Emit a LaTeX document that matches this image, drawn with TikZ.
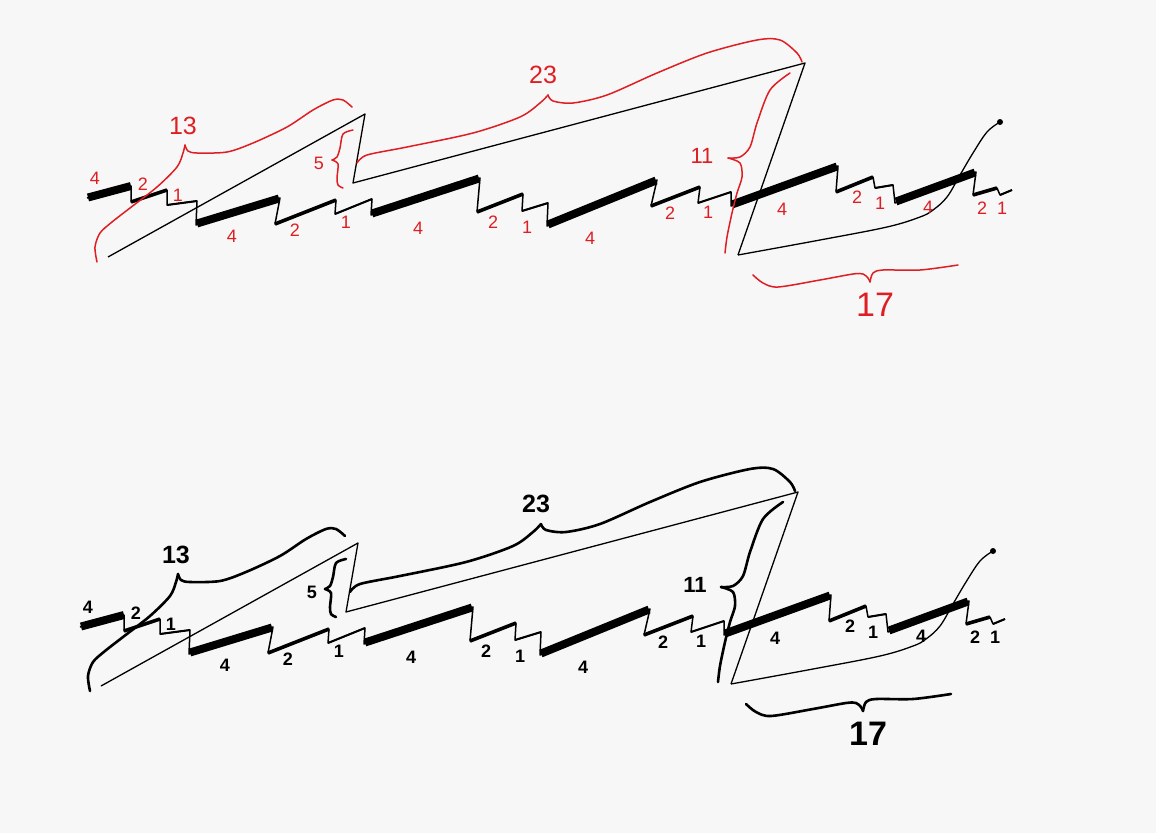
\documentclass[tikz,border=0pt]{standalone}
\usepackage{fontspec}
\setmainfont{Liberation Sans}
\definecolor{redink}{RGB}{222,30,34}
\definecolor{paper}{RGB}{247,247,247}
% #1 prefix, #2 annotation colour, #3 brace width, #4 font series
\newcommand\sawfig[4]{%
 % sawtooth base line
 \draw[drop] (87,198)--(131,186)--(131,202)--(167,190)--(167,205)--(197,201)--(196,225)--(280,198)--(275,224)--(336,200)--(335,214)--(372,199)--(371,215)--(480,178)--(477,212)--(523,194)--(522,211)--(548,203)--(547,226)--(657,180)--(651,206)--(700,187)--(698,203)--(731,192)--(731,206)--(838,166)--(836,192)--(873,177)--(875,188)--(893,185)--(895,203)--(976,172)--(973,195)--(997,188)--(1000,195)--(1012,190);
 % segments of length 4
 \draw[w4] (88,197.5)--(131,186);
 \draw[w4] (197,223.5)--(279,198.5);
 \draw[w4] (372,213.5)--(479,178.5);
 \draw[w4] (548,224.5)--(656,180.5);
 \draw[w4] (732,204.5)--(837,166.5);
 \draw[w4] (896,201.5)--(975,172.5);
 % segments of length 2
 \draw[w2] (131,202)--(167,190);
 \draw[w2] (275,224)--(336,200);
 \draw[w2] (477,212)--(523,194);
 \draw[w2] (651,206)--(700,187);
 \draw[w2] (836,192)--(873,177);
 \draw[w2] (973,195)--(997,188);
 % segments of length 1
 \draw[w1] (167,205)--(197,201);
 \draw[w1] (335,214)--(372,199);
 \draw[w1] (522,211)--(548,203);
 \draw[w1] (698,203)--(731,192);
 \draw[w1] (875,188)--(893,185);
 \draw[w1] (1000,195)--(1012,190);
 % thin outline of the groups
 \draw[thin] (108,257)--(365,114)--(353,183)--(805,63)--(738,255);
 \draw[thin] plot[smooth,tension=0.6] coordinates {(738,255)(820,240)(887,227)(920,217)(933,210)(947,197)(960,175)(973,153)(987,132)(1000,122)};
 \fill (1000,122) circle (3);
 % braces
 \begin{scope}[draw=#2,line width=#3,line cap=round]
  \draw plot[smooth] coordinates {(97,262)(95,247)(100,233)(112,222)(130,208)(157,187)(177,167)(183,153)(185,145)};
  \draw plot[smooth] coordinates {(185,145)(188,151)(197,153)(227,152)(253,143)(287,127)(313,110)(333,100)(343,100)(352,107)};
  \draw plot[smooth] coordinates {(353,130)(343,134)(340,148)(337,157)(332,160)};
  \draw plot[smooth] coordinates {(332,160)(338,164)(337,178)(338,185)(343,188)};
  \draw plot[smooth] coordinates {(357,163)(367,155)(407,147)(473,133)(520,117)(540,103)(548,95)};
  \draw plot[smooth] coordinates {(548,95)(553,101)(573,103)(607,95)(657,73)(707,53)(757,40)(780,40)(797,53)(802,62)};
  \draw plot[smooth] coordinates {(790,73)(770,90)(757,123)(750,147)(740,157)(728,158)};
  \draw plot[smooth] coordinates {(728,158)(740,163)(742,177)(737,193)(732,213)(727,237)(725,253)};
  \draw plot[smooth] coordinates {(753,275)(763,283)(778,287)(820,280)(853,274)(863,274)(868,278)(870,282)};
  \draw plot[smooth] coordinates {(870,282)(873,273)(883,270)(920,270)(958,265)};
 \end{scope}
 % labels
 \begin{scope}[every node/.style={text=#2,inner sep=0pt,font=#4\fontsize{18}{18}\selectfont}]
  \node (#1a1) at (95,178) {4};
  \node (#1a2) at (143,184) {2};
  \node (#1a3) at (178,195) {1};
  \node (#1b1) at (232,236) {4};
  \node (#1b2) at (295,230) {2};
  \node (#1b3) at (346,222) {1};
  \node (#1c1) at (418,228) {4};
  \node (#1c2) at (493,222) {2};
  \node (#1c3) at (527,227) {1};
  \node (#1d1) at (590,238) {4};
  \node (#1d2) at (670,213) {2};
  \node (#1d3) at (708,212) {1};
  \node (#1e1) at (782,209) {4};
  \node (#1e2) at (857,197) {2};
  \node (#1e3) at (880,203) {1};
  \node (#1f1) at (928,207) {4};
  \node (#1f2) at (982,208) {2};
  \node (#1f3) at (1002,208) {1};
  \node (#1five) at (319,163) {5};
  \node[font=#4\fontsize{25}{25}\selectfont] (#1thirteen) at (183,126) {13};
  \node[font=#4\fontsize{25}{25}\selectfont] (#1twentythree) at (543,75) {23};
  \node[font=#4\fontsize{22}{22}\selectfont] (#1eleven) at (702,156) {11};
  \node[font=#4\fontsize{34}{34}\selectfont] (#1seventeen) at (875,305) {17};
 \end{scope}
}
\begin{document}
\begin{tikzpicture}[x=1pt,y=-1pt,
  line join=round,
  w4/.style={line width=8pt},
  w2/.style={line width=3.6pt},
  w1/.style={line width=2pt},
  drop/.style={line width=1.5pt},
  thin/.style={line width=1.3pt}]
 \fill[paper] (0,0) rectangle (1156,833);
 \useasboundingbox (0,0) rectangle (1156,833);
 \sawfig{t}{redink}{1.5pt}{\normalfont}
 \begin{scope}[shift={(-7,429)}]
  \sawfig{u}{black}{2.6pt}{\bfseries}
 \end{scope}
\end{tikzpicture}
\end{document}
